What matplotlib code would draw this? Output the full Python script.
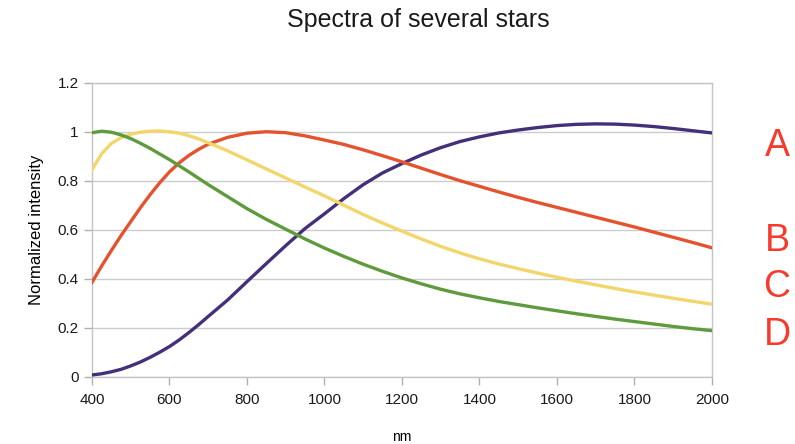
import numpy as np
import matplotlib
matplotlib.use("Agg")
import matplotlib.pyplot as plt
import matplotlib.ticker as ticker

plt.rcParams['font.family'] = ['Liberation Sans', 'DejaVu Sans']

wavelength = [400, 425, 450, 475, 500, 525, 550, 575, 600, 625, 650, 675, 700,
              750, 800, 850, 900, 950, 1000, 1050, 1100, 1150, 1200, 1250, 1300,
              1350, 1400, 1450, 1500, 1550, 1600, 1650, 1700, 1750, 1800, 1850,
              1900, 1950, 2000]

star_a = [0.007, 0.012, 0.020, 0.030, 0.044, 0.060, 0.079, 0.100, 0.123, 0.150,
          0.180, 0.212, 0.246,
          0.313, 0.388, 0.462, 0.535, 0.605, 0.665, 0.727, 0.784, 0.832, 0.870,
          0.905, 0.935, 0.960, 0.979, 0.995, 1.007, 1.017, 1.025, 1.030, 1.032,
          1.031, 1.027, 1.021, 1.013, 1.004, 0.995]
star_b = [0.385, 0.452, 0.515, 0.576, 0.633, 0.690, 0.743, 0.792, 0.836, 0.873,
          0.903, 0.928, 0.949,
          0.977, 0.994, 1.000, 0.996, 0.983, 0.966, 0.948, 0.926, 0.902, 0.877,
          0.851, 0.825, 0.800, 0.777, 0.754, 0.732, 0.711, 0.691, 0.671, 0.651,
          0.631, 0.611, 0.590, 0.569, 0.548, 0.526]
star_c = [0.845, 0.910, 0.952, 0.976, 0.990, 0.998, 1.002, 1.003, 1.000, 0.994,
          0.984, 0.971, 0.955,
          0.922, 0.885, 0.848, 0.811, 0.774, 0.738, 0.700, 0.662, 0.627, 0.594,
          0.562, 0.532, 0.505, 0.481, 0.460, 0.441, 0.423, 0.406, 0.390, 0.375,
          0.360, 0.346, 0.333, 0.320, 0.308, 0.296]
star_d = [0.996, 1.002, 0.998, 0.987, 0.972, 0.953, 0.932, 0.909, 0.886, 0.861,
          0.836, 0.810, 0.784,
          0.735, 0.686, 0.642, 0.602, 0.562, 0.525, 0.491, 0.459, 0.430, 0.403,
          0.379, 0.357, 0.338, 0.322, 0.307, 0.294, 0.281, 0.269, 0.257, 0.246,
          0.235, 0.225, 0.215, 0.205, 0.196, 0.188]

labels = ['A', 'B', 'C', 'D']
label_y = [0.94, 0.555, 0.365, 0.17]   # in data units, outside the right edge

fig = plt.figure(figsize=(7.95, 4.44), dpi=100)
ax = fig.add_axes([0.1157, 0.1516, 0.7799, 0.6621])

ax.plot(wavelength, star_a, color='#44307a', lw=2.4, zorder=3)
ax.plot(wavelength, star_b, color='#e4532d', lw=2.4, zorder=3)
ax.plot(wavelength, star_c, color='#f3d66b', lw=2.4, zorder=3)
ax.plot(wavelength, star_d, color='#5f9a3c', lw=2.4, zorder=3)

ax.set_xlim(400, 2000)
ax.set_ylim(0, 1.2)
ax.set_xticks(np.arange(400, 2001, 200))
ax.set_yticks(np.arange(0, 1.21, 0.2))
ax.yaxis.set_major_formatter(ticker.FuncFormatter(lambda v, p: '%g' % round(v, 1)))

ax.grid(axis='y', color='#cccccc', lw=1)
ax.set_axisbelow(True)
for s in ax.spines.values():
    s.set_color('#c4c4c4')
    s.set_linewidth(1)
ax.tick_params(colors='#b0b0b0', labelcolor='#1a1a1a', length=6, width=1,
               labelsize=11)
ax.tick_params(axis='x', pad=6)

ax.set_xlabel('nm', fontsize=10, labelpad=16)
ax.set_ylabel('Normalized intensity', fontsize=12, labelpad=10)
fig.text(0.526, 0.955, 'Spectra of several stars', ha='center', va='center',
         fontsize=18, color='#1a1a1a')

for lab, yv in zip(labels, label_y):
    ax.text(1.105, yv / 1.2, lab, transform=ax.transAxes, ha='center', va='center',
            fontsize=27, color='#f63a2c')

fig.savefig('out.png', dpi=100)
